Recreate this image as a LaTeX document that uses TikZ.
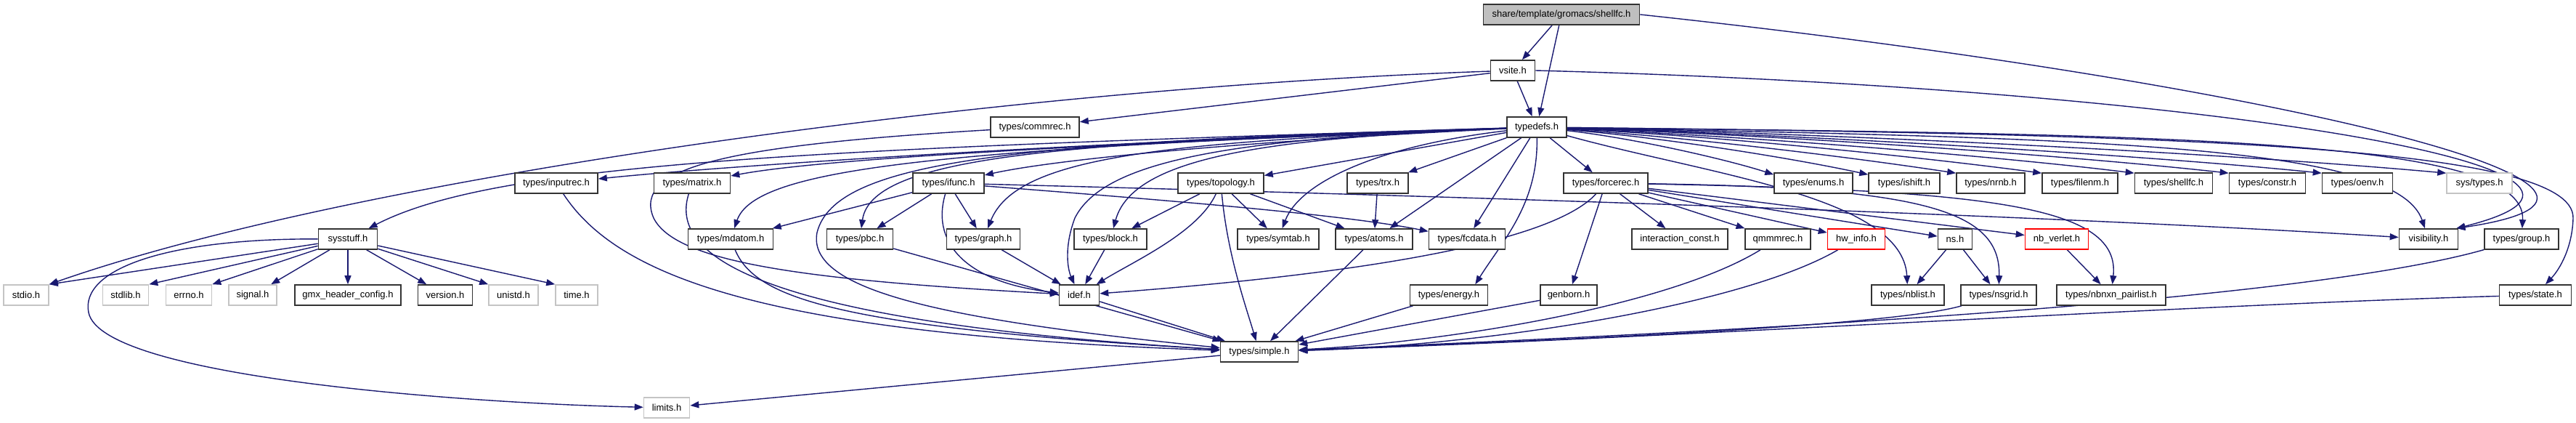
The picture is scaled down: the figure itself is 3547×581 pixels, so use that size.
\documentclass[tikz,border=0pt]{standalone}
\usepackage{fontspec}
\setmainfont{Liberation Sans}
\usetikzlibrary{arrows.meta}
\pgfdeclarelayer{bg}
\pgfsetlayers{bg,main}
\definecolor{edgec}{HTML}{191970}
\definecolor{mainfill}{HTML}{BFBFBF}
\definecolor{sysgray}{HTML}{C4C4C4}
\tikzset{
 nbox/.style={draw=black!80, line width=1.6pt, minimum height=28, inner sep=0pt, fill=white, font=\fontsize{13}{15}\selectfont},
 sysbox/.style={nbox, draw=sysgray},
 redbox/.style={nbox, draw=red},
 mainbox/.style={nbox, fill=mainfill},
 edg/.style={draw=edgec, line width=1.4pt, -{Triangle[length=12pt,width=9pt]}},
}
\begin{document}
\begin{tikzpicture}[x=1pt,y=-1pt]
\path[use as bounding box] (0,0) rectangle (3547,581);
% row 0-2
\node[mainbox, minimum width=215] (main) at (2150,20) {share/template/gromacs/shellfc.h};
\node[nbox, minimum width=61] (vsite) at (2083,97) {vsite.h};
\node[nbox, minimum width=122] (commrec) at (1425,175) {types/commrec.h};
\node[nbox, minimum width=82] (typedefs) at (2116,175) {typedefs.h};
% row 3
\node[nbox, minimum width=114] (inputrec) at (766,252) {types/inputrec.h};
\node[nbox, minimum width=105] (matrix) at (953,252) {types/matrix.h};
\node[nbox, minimum width=98] (ifunc) at (1306,252) {types/ifunc.h};
\node[nbox, minimum width=118] (topology) at (1681,252) {types/topology.h};
\node[nbox, minimum width=84] (trx) at (1897,252) {types/trx.h};
\node[nbox, minimum width=116] (forcerec) at (2211,252) {types/forcerec.h};
\node[nbox, minimum width=108] (enums) at (2497,252) {types/enums.h};
\node[nbox, minimum width=98] (ishift) at (2622,252) {types/ishift.h};
\node[nbox, minimum width=94] (nrnb) at (2741,252) {types/nrnb.h};
\node[nbox, minimum width=104] (filenm) at (2864,252) {types/filenm.h};
\node[nbox, minimum width=107] (tshellfc) at (2993,252) {types/shellfc.h};
\node[nbox, minimum width=105] (constr) at (3122,252) {types/constr.h};
\node[nbox, minimum width=97] (oenv) at (3246,252) {types/oenv.h};
\node[sysbox, minimum width=90] (systypes) at (3414,252) {sys/types.h};
% row 4
\node[nbox, minimum width=81] (sysstuff) at (479,329) {sysstuff.h};
\node[nbox, minimum width=117] (mdatom) at (1006,329) {types/mdatom.h};
\node[nbox, minimum width=91] (pbc) at (1184,329) {types/pbc.h};
\node[nbox, minimum width=101] (graph) at (1354,329) {types/graph.h};
\node[nbox, minimum width=100] (block) at (1529,329) {types/block.h};
\node[nbox, minimum width=112] (symtab) at (1760,329) {types/symtab.h};
\node[nbox, minimum width=106] (atoms) at (1892,329) {types/atoms.h};
\node[nbox, minimum width=105] (fcdata) at (2020,329) {types/fcdata.h};
\node[nbox, minimum width=132] (iconst) at (2313,329) {interaction\_const.h};
\node[nbox, minimum width=90] (qmmmrec) at (2448,329) {qmmmrec.h};
\node[redbox, minimum width=79] (hwinfo) at (2556,329) {hw\_info.h};
\node[nbox, minimum width=47] (ns) at (2692,329) {ns.h};
\node[redbox, minimum width=87] (nbverlet) at (2832,329) {nb\_verlet.h};
\node[nbox, minimum width=81] (visibility) at (3344,329) {visibility.h};
\node[nbox, minimum width=102] (group) at (3472,329) {types/group.h};
% row 5
\node[sysbox, minimum width=62] (stdio) at (36,406) {stdio.h};
\node[sysbox, minimum width=63] (stdlib) at (173,406) {stdlib.h};
\node[sysbox, minimum width=63] (errno) at (260,406) {errno.h};
\node[sysbox, minimum width=66] (signal) at (348,406) {signal.h};
\node[nbox, minimum width=146] (gmxhc) at (479,406) {gmx\_header\_config.h};
\node[nbox, minimum width=75] (version) at (613,406) {version.h};
\node[sysbox, minimum width=68] (unistd) at (707,406) {unistd.h};
\node[sysbox, minimum width=58] (time) at (794,406) {time.h};
\node[nbox, minimum width=55] (idef) at (1486,406) {idef.h};
\node[nbox, minimum width=107] (energy) at (1995,406) {types/energy.h};
\node[nbox, minimum width=78] (genborn) at (2160,406) {genborn.h};
\node[nbox, minimum width=100] (nblist) at (2627,406) {types/nblist.h};
\node[nbox, minimum width=104] (nsgrid) at (2752,406) {types/nsgrid.h};
\node[nbox, minimum width=150] (nbnxn) at (2907,406) {types/nbnxn\_pairlist.h};
\node[nbox, minimum width=99] (state) at (3491,406) {types/state.h};
% row 6-7
\node[nbox, minimum width=107] (simple) at (1734,484) {types/simple.h};
\node[sysbox, minimum width=63] (limits) at (918,561) {limits.h};

\begin{pgfonlayer}{bg}
% top file
\draw[edg] (main) -- (vsite);
\draw[edg] (main) -- (typedefs);
\draw[edg] (main.east) .. controls (3100,110) and (3750,260) .. ([xshift=-3pt]visibility.north east);
% vsite
\draw[edg] (vsite) -- (typedefs);
\draw[edg] (vsite) -- (commrec);
\draw[edg] (vsite) .. controls (1400,120) and (500,240) .. (stdio.north east);
\draw[edg] (vsite.east) .. controls (3000,120) and (3720,230) .. ([xshift=-3pt]visibility.north east);
% commrec
\draw[edg] (commrec) .. controls (1000,200) and (870,230) .. (900,300) .. controls (930,360) and (1100,385) .. (idef);
% typedefs to the left
\draw[edg] (typedefs) .. controls (1100,205) and (680,225) .. (sysstuff);
\draw[edg] (typedefs) .. controls (1500,195) and (1000,228) .. (inputrec);
\draw[edg] (typedefs) .. controls (1600,195) and (1150,215) .. (matrix);
\draw[edg] (typedefs) .. controls (1300,205) and (1040,230) .. (mdatom);
\draw[edg] (typedefs) .. controls (1700,195) and (1450,220) .. (ifunc);
\draw[edg] (typedefs) .. controls (1500,195) and (1200,210) .. (pbc);
\draw[edg] (typedefs) .. controls (1600,195) and (1400,215) .. (graph);
\draw[edg] (typedefs) .. controls (1750,190) and (1560,215) .. (block);
\draw[edg] (typedefs) .. controls (1700,190) and (1520,220) .. (1480,300) .. controls (1465,340) and (1470,370) .. (idef);
\draw[edg] (typedefs) .. controls (1400,195) and (1150,220) .. (1125,320) .. controls (1110,400) and (1300,440) .. (simple);
\draw[edg] (typedefs) -- (topology);
\draw[edg] (typedefs) -- (trx);
\draw[edg] (typedefs) -- (forcerec);
\draw[edg] (typedefs) -- (atoms);
\draw[edg] (typedefs) -- (fcdata);
\draw[edg] (typedefs) .. controls (2118,280) and (2070,330) .. ([xshift=-18pt]energy.north east);
\draw[edg] (typedefs) .. controls (1900,200) and (1790,250) .. (symtab);
% typedefs to the right
\draw[edg] (typedefs) .. controls (2250,190) and (2380,220) .. ([yshift=-3pt]enums.north west);
\draw[edg] (typedefs) .. controls (2300,190) and (2480,220) .. ([yshift=-3pt]ishift.north west);
\draw[edg] (typedefs) .. controls (2340,190) and (2560,218) .. ([yshift=-1pt]nrnb.north west);
\draw[edg] (typedefs) .. controls (2380,188) and (2660,218) .. ([yshift=-1pt]filenm.north west);
\draw[edg] (typedefs) .. controls (2420,188) and (2760,216) .. ([yshift=-1pt]tshellfc.north west);
\draw[edg] (typedefs) .. controls (2460,186) and (2860,215) .. ([yshift=-1pt]constr.north west);
\draw[edg] (typedefs) .. controls (2500,186) and (2960,214) .. ([yshift=-1pt]oenv.north west);
\draw[edg] (typedefs) .. controls (2560,185) and (3080,212) .. ([yshift=-1pt]systypes.north west);
\draw[edg] (typedefs) .. controls (2900,190) and (3300,200) .. (visibility);
\draw[edg] (typedefs) .. controls (3000,185) and (3480,190) .. (group);
\draw[edg] (typedefs) .. controls (3000,185) and (3545,200) .. (3543,300) .. controls (3542,340) and (3525,370) .. (state);
\draw[edg] (typedefs) .. controls (2350,240) and (2620,270) .. (nblist);
% forcerec
\draw[edg] (forcerec) .. controls (2140,330) and (1900,375) .. (idef);
\draw[edg] (forcerec) -- (genborn);
\draw[edg] (forcerec) -- (iconst);
\draw[edg] (forcerec) -- (qmmmrec);
\draw[edg] (forcerec) -- (hwinfo);
\draw[edg] (forcerec) -- (ns);
\draw[edg] (forcerec) -- (nbverlet);
\draw[edg] (forcerec) .. controls (2650,258) and (2755,290) .. (nsgrid);
\draw[edg] (forcerec) .. controls (2750,262) and (2920,285) .. (nbnxn);
% ifunc
\draw[edg] (ifunc) -- (mdatom);
\draw[edg] (ifunc) -- (pbc);
\draw[edg] (ifunc) -- (graph);
\draw[edg] (ifunc) .. controls (1280,340) and (1340,390) .. (idef);
\draw[edg] (ifunc) .. controls (1600,275) and (1850,295) .. (fcdata);
\draw[edg] (ifunc) .. controls (2000,270) and (2800,295) .. (visibility);
% topology
\draw[edg] (topology) -- (block);
\draw[edg] (topology) .. controls (1650,320) and (1560,360) .. (idef);
\draw[edg] (topology) -- (symtab);
\draw[edg] (topology) -- (atoms);
\draw[edg] (topology) .. controls (1690,350) and (1715,420) .. (simple);
\draw[edg] (trx) -- (atoms);
% to idef
\draw[edg] (graph) -- (idef);
\draw[edg] (block) -- (idef);
% to simple
\draw[edg] (idef) -- (simple);
\draw[edg] (pbc) -- (simple);
\draw[edg] (mdatom) .. controls (1040,410) and (1150,450) .. (simple);
\draw[edg] (inputrec) .. controls (850,380) and (1050,460) .. (simple);
\draw[edg] (matrix) .. controls (925,340) and (1000,440) .. (simple);
\draw[edg] (atoms) -- (simple);
\draw[edg] (energy) -- (simple);
\draw[edg] (genborn) -- (simple);
\draw[edg] (qmmmrec) .. controls (2300,420) and (2000,470) .. (simple);
\draw[edg] (hwinfo) .. controls (2400,420) and (2050,475) .. (simple);
\draw[edg] (nsgrid) .. controls (2600,450) and (2100,470) .. (simple);
\draw[edg] (group) .. controls (3150,420) and (2300,460) .. (simple);
\draw[edg] (state) .. controls (3000,420) and (2300,465) .. (simple);
% ns, nb_verlet
\draw[edg] (ns) -- (nblist);
\draw[edg] (ns) -- (nsgrid);
\draw[edg] (nbverlet) -- (nbnxn);
% sysstuff
\draw[edg] (sysstuff) -- (stdio.north east);
\draw[edg] (sysstuff) -- (stdlib.north east);
\draw[edg] (sysstuff) -- (errno.north east);
\draw[edg] (sysstuff) -- (signal);
\draw[edg] (sysstuff) -- (gmxhc);
\draw[edg] (sysstuff) -- (version);
\draw[edg] (sysstuff) -- (unistd.north west);
\draw[edg] (sysstuff) -- (time.north west);
\draw[edg] (sysstuff) .. controls (230,328) and (110,370) .. (122,430) .. controls (140,520) and (650,555) .. (limits);
\draw[edg] (simple) -- (limits);
\end{pgfonlayer}
\end{tikzpicture}
\end{document}
